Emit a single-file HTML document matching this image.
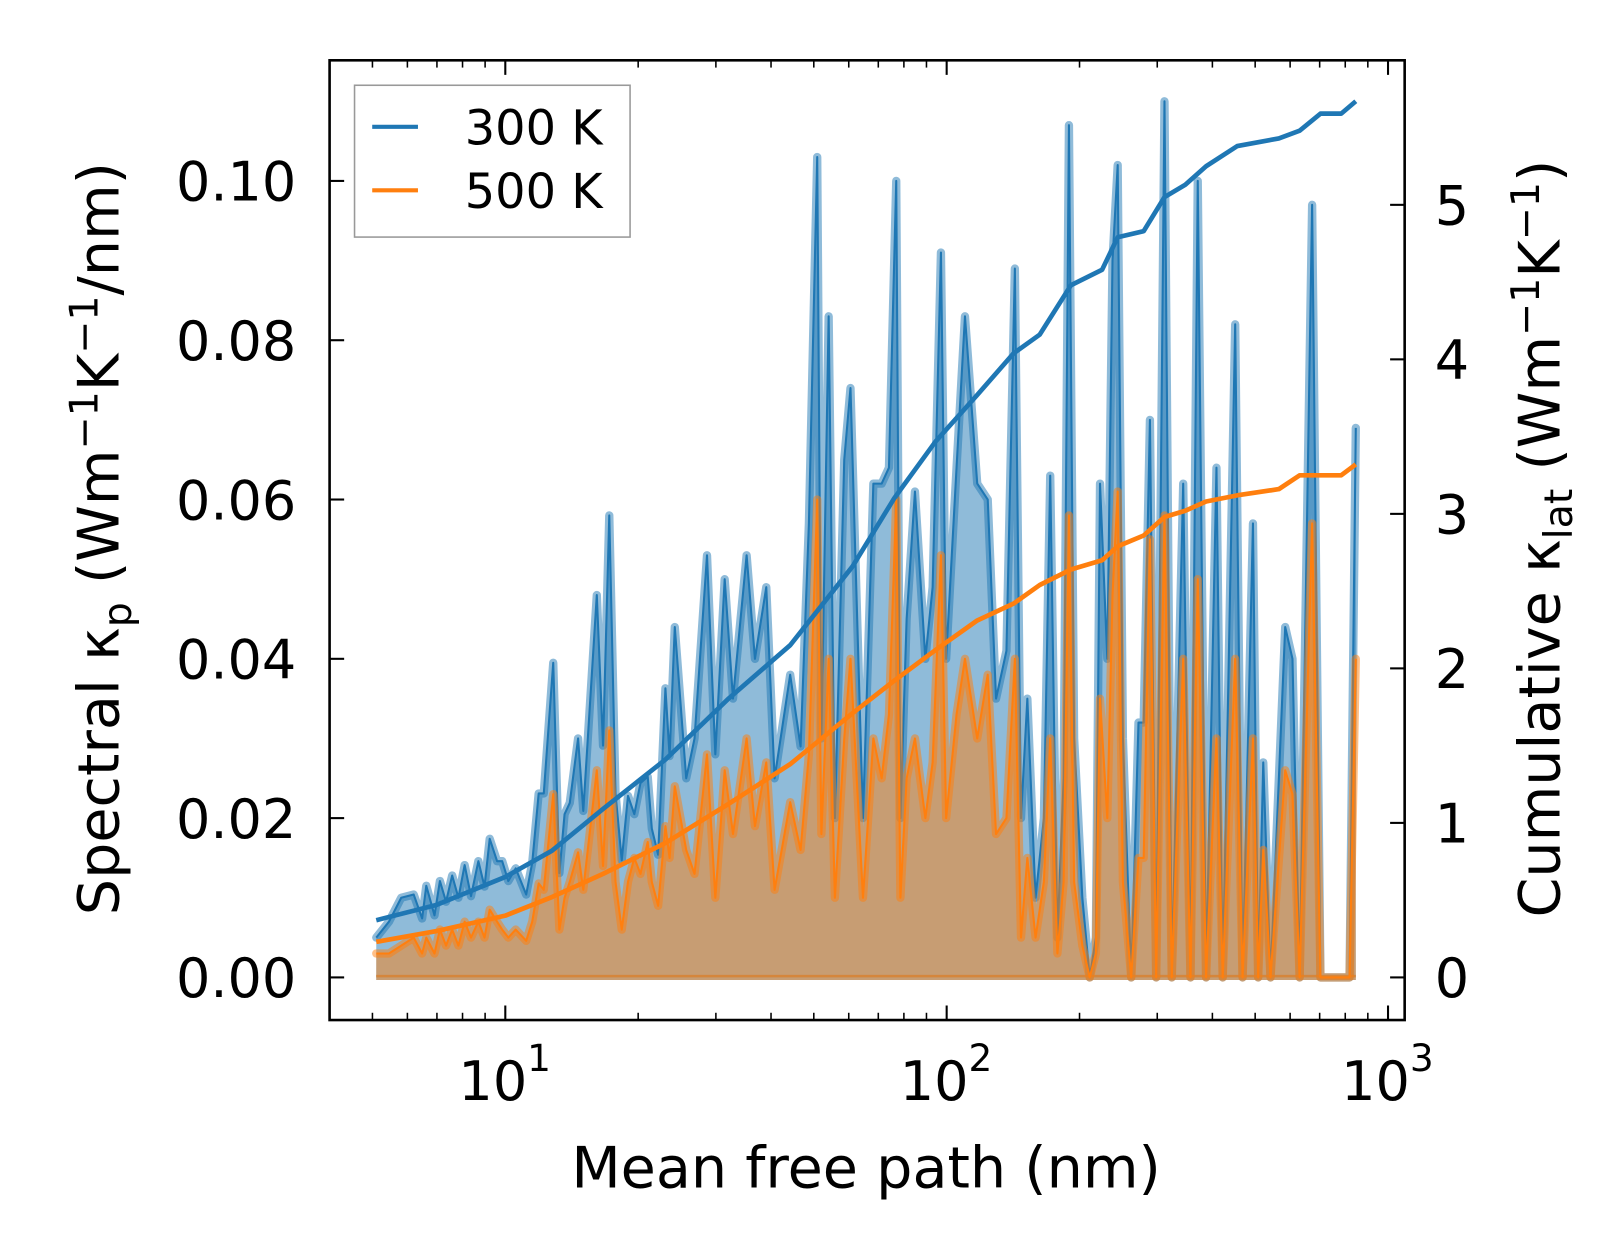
<!DOCTYPE html>
<html><head><meta charset="utf-8"><style>
html,body{margin:0;padding:0;background:#fff;}
svg{display:block;font-family:"DejaVu Sans","Liberation Sans",sans-serif;}
</style></head><body>
<svg id="chart" width="1623" height="1254" viewBox="0 0 1561 1206" preserveAspectRatio="none" xmlns="http://www.w3.org/2000/svg">
<g id="fills"></g><g id="cum"></g><g id="axes"></g>
<g>
<rect x="341" y="82" width="265" height="146" fill="#fff" fill-opacity="0.8" stroke="#999" stroke-width="1.5"/>
<line x1="358" y1="122" x2="402" y2="122" stroke="#1f77b4" stroke-width="4"/>
<text x="447" y="139" font-size="46">300 K</text>
<line x1="358" y1="183" x2="402" y2="183" stroke="#ff7f0e" stroke-width="4"/>
<text x="447" y="200" font-size="46">500 K</text>
</g>
<text x="833" y="1142" font-size="55" text-anchor="middle">Mean free path (nm)</text>
<text transform="translate(114,518) rotate(-90)" font-size="55" text-anchor="middle">Spectral κ<tspan font-size="38" dy="12">p</tspan><tspan dy="-12"> (Wm</tspan><tspan font-size="38" dy="-20">−1</tspan><tspan dy="20">K</tspan><tspan font-size="38" dy="-20">−1</tspan><tspan dy="20">/nm)</tspan></text>
<text transform="translate(1500,518) rotate(-90)" font-size="55" text-anchor="middle">Cumulative κ<tspan font-size="38" dy="12">lat</tspan><tspan dy="-12"> (Wm</tspan><tspan font-size="38" dy="-20">−1</tspan><tspan dy="20">K</tspan><tspan font-size="38" dy="-20">−1</tspan><tspan dy="20">)</tspan></text>
</svg>
<script>
const mfp=[5.10,5.45,5.81,6.20,6.48,6.62,6.91,7.11,7.34,7.58,7.83,8.09,8.36,8.69,8.97,9.22,9.58,9.84,10.16,10.56,11.15,11.51,11.90,12.22,12.84,13.26,13.62,14.00,14.62,15.02,16.12,16.65,17.20,17.77,18.36,18.97,19.60,20.24,21.02,21.48,22.20,23.06,23.56,24.21,25.70,26.84,28.64,29.91,31.41,32.81,35.21,36.77,39.02,40.75,44.20,46.67,48.74,50.89,52.01,54.03,55.82,58.61,60.55,64.62,68.23,71.26,74.02,76.88,78.56,81.16,84.77,89.46,92.93,97.05,99.73,105.3,110.0,117.3,123.9,129.4,136.6,142.7,147.4,152.3,159.0,166.1,171.6,178.2,184.1,189.2,194.4,203.0,210.9,217.8,222.6,231.2,237.6,244.1,250.8,261.9,272.0,279.5,288.7,298.3,311.5,323.6,343.5,356.8,370.6,387.0,408.6,422.1,450.6,468.1,494.2,507.8,521.7,541.9,584.8,607.4,630.6,673.0,703.0,818.1,845.3];
const spec300=[0.005,0.007,0.010,0.0104,0.0074,0.0115,0.0078,0.0121,0.0095,0.0128,0.0100,0.0141,0.0102,0.0146,0.0114,0.0174,0.0146,0.0146,0.0121,0.0137,0.0104,0.0144,0.0231,0.0231,0.0395,0.0131,0.0205,0.0219,0.0300,0.0209,0.0480,0.0291,0.0580,0.0231,0.0147,0.0228,0.0205,0.0244,0.0252,0.0187,0.0154,0.0363,0.0278,0.0440,0.025,0.030,0.053,0.028,0.050,0.035,0.053,0.040,0.049,0.025,0.038,0.029,0.057,0.103,0.030,0.083,0.020,0.065,0.074,0.020,0.062,0.062,0.064,0.100,0.020,0.045,0.061,0.040,0.049,0.091,0.040,0.064,0.083,0.062,0.060,0.035,0.041,0.089,0.020,0.035,0.010,0.020,0.063,0.005,0.025,0.107,0.030,0.010,0.000,0.005,0.062,0.040,0.090,0.102,0.030,0.000,0.032,0.032,0.070,0.000,0.110,0.000,0.062,0.000,0.100,0.000,0.064,0.000,0.082,0.000,0.057,0.000,0.027,0.000,0.044,0.040,0.000,0.097,0.000,0.000,0.069];
const spec500=[0.003,0.003,0.004,0.005,0.003,0.005,0.003,0.006,0.004,0.006,0.004,0.007,0.005,0.007,0.005,0.0085,0.007,0.006,0.005,0.006,0.0046,0.007,0.0118,0.011,0.023,0.006,0.010,0.012,0.0157,0.011,0.026,0.014,0.031,0.012,0.006,0.012,0.015,0.013,0.017,0.012,0.009,0.019,0.015,0.024,0.016,0.013,0.028,0.010,0.026,0.018,0.030,0.019,0.027,0.011,0.022,0.016,0.028,0.060,0.018,0.040,0.010,0.030,0.040,0.010,0.030,0.025,0.033,0.060,0.010,0.025,0.030,0.020,0.027,0.053,0.020,0.033,0.040,0.030,0.038,0.018,0.020,0.040,0.005,0.015,0.005,0.012,0.030,0.003,0.012,0.058,0.012,0.004,0.000,0.003,0.035,0.020,0.048,0.061,0.012,0.000,0.015,0.015,0.055,0.000,0.058,0.000,0.040,0.000,0.050,0.000,0.030,0.000,0.040,0.000,0.030,0.000,0.016,0.000,0.026,0.023,0.000,0.057,0.000,0.000,0.040];
const cumMfp=[5.10,6.99,10.0,12.76,16.65,23.06,31.93,44.20,61.21,76.04,94.47,117.3,141.9,162.5,191.2,225.0,244.1,279.5,311.5,347.2,387.0,455.5,565.9,630.6,703.0,783.4,845.3];
const cum300=[0.37,0.47,0.65,0.82,1.09,1.41,1.80,2.15,2.66,3.10,3.47,3.77,4.04,4.16,4.48,4.58,4.79,4.83,5.05,5.13,5.25,5.38,5.43,5.48,5.59,5.59,5.67];
const cum500=[0.23,0.30,0.40,0.52,0.67,0.87,1.12,1.38,1.71,1.92,2.12,2.31,2.42,2.54,2.64,2.70,2.79,2.86,2.98,3.02,3.08,3.12,3.16,3.25,3.25,3.25,3.32];
const leftTicks=["0.00","0.02","0.04","0.06","0.08","0.10"];
const leftVals=[0,0.02,0.04,0.06,0.08,0.10];
const rightVals=[0,1,2,3,4,5];
const xMajor=[10,100,1000];
const xMajorExp=["1","2","3"];

const NS="http://www.w3.org/2000/svg";
const L=317,R=1351,T=58,B=981;
const X=v=>486+(Math.log10(v)-1)*424.5;
const Y=v=>940-v*7660;
const Y2=v=>940-v*148.6;
function mk(tag,attrs,parent){const e=document.createElementNS(NS,tag);for(const k in attrs)e.setAttribute(k,attrs[k]);parent.appendChild(e);return e;}
const fills=document.getElementById('fills'),cum=document.getElementById('cum'),axes=document.getElementById('axes');
function series(vals,color,name){
  let d='M'+X(mfp[0])+','+Y(0);
  mfp.forEach((m,i)=>{d+=' L'+X(m).toFixed(1)+','+Y(vals[i]).toFixed(1);});
  d+=' L'+X(mfp[mfp.length-1])+','+Y(0)+' Z';
  const f=mk('path',{d:d,fill:color,'fill-opacity':0.5,stroke:'none'},fills);
  
  
  let ld=mfp.map((m,i)=>(i?'L':'M')+X(m).toFixed(1)+','+Y(vals[i]).toFixed(1)).join(' ');
  const t=mk('path',{d:ld,fill:'none',stroke:color,'stroke-opacity':0.5,'stroke-width':8,'stroke-linejoin':'round','stroke-linecap':'round'},fills);
  
  
  const l=mk('path',{d:ld,fill:'none',stroke:color,'stroke-width':2,'stroke-linejoin':'round'},fills);
  
  
  const z=mk('line',{x1:X(mfp[0]),x2:X(mfp[mfp.length-1]),y1:Y(0),y2:Y(0),stroke:color,'stroke-opacity':0.5,'stroke-width':5},fills);
  
  
}
series(spec300,'#1f77b4','spectral-300k');
series(spec500,'#ff7f0e','spectral-500k');
function cumLine(vals,color,name){
  const d=cumMfp.map((m,i)=>(i?'L':'M')+X(m).toFixed(1)+','+Y2(vals[i]).toFixed(1)).join(' ');
  const p=mk('path',{d:d,fill:'none',stroke:color,'stroke-width':4.5,'stroke-linejoin':'round'},cum);
  
  
}
cumLine(cum300,'#1f77b4','cumulative-300k');
cumLine(cum500,'#ff7f0e','cumulative-500k');
const fr=mk('rect',{x:L,y:T,width:R-L,height:B-T,fill:'none',stroke:'#000','stroke-width':2.5},axes);


leftVals.forEach((v,i)=>{
  mk('line',{x1:L,x2:L+14,y1:Y(v),y2:Y(v),stroke:'#000','stroke-width':2},axes);
  const t=mk('text',{x:L-32,y:Y(v)+19,'font-size':52,'text-anchor':'end'},axes);
  t.textContent=leftTicks[i];
  
  
});
rightVals.forEach(v=>{
  mk('line',{x1:R-14,x2:R,y1:Y2(v),y2:Y2(v),stroke:'#000','stroke-width':2},axes);
  const t=mk('text',{x:R+29,y:Y2(v)+19,'font-size':52},axes);
  t.textContent=String(v);
  
  
});
xMajor.forEach((v,i)=>{
  const x=X(v);
  mk('line',{x1:x,x2:x,y1:B,y2:B-14,stroke:'#000','stroke-width':2},axes);
  mk('line',{x1:x,x2:x,y1:T,y2:T+14,stroke:'#000','stroke-width':2},axes);
  const t=mk('text',{x:x-12,y:1058,'font-size':52,'text-anchor':'middle'},axes);
  t.textContent='10';
  
  
  const s=mk('text',{x:x+21,y:1030,'font-size':36},axes);
  s.textContent=xMajorExp[i];
});
for(let e=0;e<3;e++)for(let k=2;k<10;k++){
  const v=k*Math.pow(10,e);const x=X(v);
  if(x<L||x>R)continue;
  mk('line',{x1:x,x2:x,y1:B,y2:B-7,stroke:'#000','stroke-width':1.5},axes);
  mk('line',{x1:x,x2:x,y1:T,y2:T+7,stroke:'#000','stroke-width':1.5},axes);
}
</script>
</body></html>
